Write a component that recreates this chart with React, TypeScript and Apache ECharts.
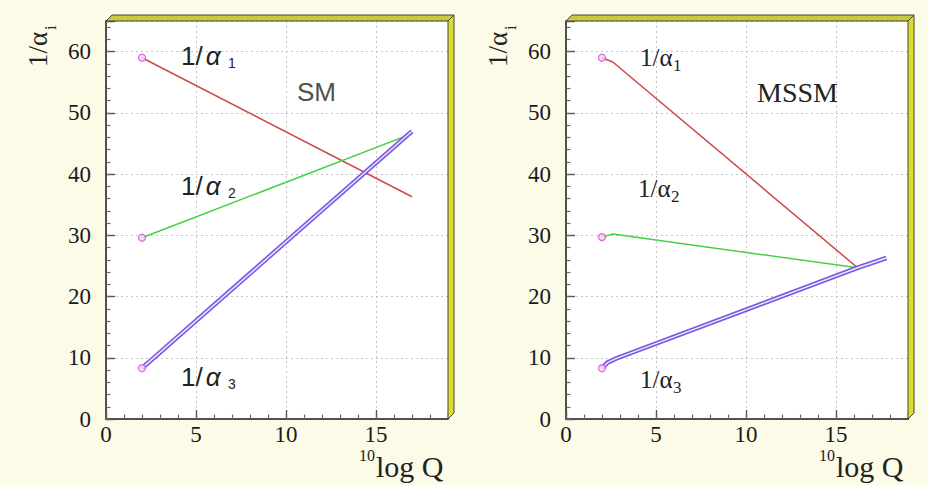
import React, { useEffect, useRef } from "react";
import * as echarts from "echarts";

// ---- data (log10 Q, 1/alpha_i) ----
const xTickLabels = [0, 5, 10, 15];
const yTickLabels = [0, 10, 20, 30, 40, 50, 60];

const smAlpha1 = [[2, 59.0], [17, 36.3]];
const smAlpha2 = [[2, 29.6], [17, 46.6]];
const smAlpha3 = [[2, 8.3], [17, 47.0]];

const mssmAlpha1 = [[2, 59.0], [2.6, 58.3], [16.2, 24.7]];
const mssmAlpha2 = [[2, 29.7], [2.6, 30.2], [16.2, 24.7]];
const mssmAlpha3 = [[2, 8.3], [2.3, 9.2], [2.8, 9.9], [16.2, 24.7], [17.8, 26.3]];

const panelTitles = ["SM", "MSSM"];

const SERIF = '"Liberation Serif", "Times New Roman", serif';
const SANS = '"Liberation Sans", Arial, sans-serif';

export default function App() {
  const ref = useRef<HTMLDivElement>(null);

  useEffect(() => {
    const chart = echarts.init(ref.current!, null, { renderer: "svg" });
    const lefts = [106, 566];
    const W = 342;
    const TOP = 21;
    const H = 398;

    const grids = lefts.map((l) => ({
      left: l,
      top: TOP,
      width: W,
      height: H,
      show: true,
      backgroundColor: "#ffffff",
      borderWidth: 0,
    }));

    const xAxes: any[] = [];
    const yAxes: any[] = [];
    lefts.forEach((_, g) => {
      xAxes.push({
        type: "value",
        gridIndex: g,
        position: "bottom",
        min: 0,
        max: 19,
        interval: 5,
        axisLine: { show: true, onZero: false, lineStyle: { color: "#505050", width: 2 } },
        axisTick: { show: true, inside: true, length: 9, lineStyle: { color: "#555", width: 1.4 } },
        axisLabel: {
          margin: 6,
          fontFamily: SERIF,
          fontSize: 23,
          lineHeight: 18,
          color: "#1a1a1a",
          formatter: (v: number) => (xTickLabels.includes(v) ? String(v) : ""),
        },
        splitLine: { show: true, lineStyle: { color: "#c4c4c4", type: [2, 3], width: 1 } },
      });
      xAxes.push({
        type: "value",
        gridIndex: g,
        position: "bottom",
        min: 0,
        max: 19,
        interval: 1,
        axisLine: { show: false },
        axisTick: { show: true, inside: true, length: 4.5, lineStyle: { color: "#666", width: 1.2 } },
        axisLabel: { show: false },
        splitLine: { show: false },
      });
      yAxes.push({
        type: "value",
        gridIndex: g,
        position: "left",
        min: 0,
        max: 65,
        interval: 10,
        axisLine: { show: true, onZero: false, lineStyle: { color: "#505050", width: 2 } },
        axisTick: { show: true, inside: true, length: 9, lineStyle: { color: "#555", width: 1.4 } },
        axisLabel: {
          margin: 15,
          fontFamily: SERIF,
          fontSize: 23,
          color: "#1a1a1a",
          formatter: (v: number) => (yTickLabels.includes(v) ? String(v) : ""),
        },
        splitLine: { show: true, lineStyle: { color: "#c4c4c4", type: [2, 3], width: 1 } },
      });
      yAxes.push({
        type: "value",
        gridIndex: g,
        position: "left",
        min: 0,
        max: 65,
        interval: 2,
        axisLine: { show: false },
        axisTick: { show: true, inside: true, length: 4.5, lineStyle: { color: "#666", width: 1.2 } },
        axisLabel: { show: false },
        splitLine: { show: false },
      });
    });

    const RED = "#d04848";
    const GREEN = "#44d044";
    const PURPLE = "#7a58e0";

    const lineSeries = (data: number[][], g: number, color: string, width: number, z = 3) => ({
      type: "line",
      xAxisIndex: 2 * g,
      yAxisIndex: 2 * g,
      data,
      symbol: "none",
      showSymbol: false,
      smooth: false,
      z,
      lineStyle: { color, width },
    });

    const panels = [
      [smAlpha1, smAlpha2, smAlpha3],
      [mssmAlpha1, mssmAlpha2, mssmAlpha3],
    ];

    const series: any[] = [];
    panels.forEach((p, g) => {
      series.push(lineSeries(p[0], g, RED, 1.5));
      series.push(lineSeries(p[1], g, GREEN, 1.5));
      series.push(lineSeries(p[2], g, PURPLE, 4.6, 4));
      series.push(lineSeries(p[2], g, "#ece6ff", 1.5, 5));
      series.push({
        type: "scatter",
        xAxisIndex: 2 * g,
        yAxisIndex: 2 * g,
        data: p.map((s) => s[0]),
        symbol: "circle",
        symbolSize: 7,
        z: 6,
        itemStyle: { color: "#f6d8f6", borderColor: "#d848d8", borderWidth: 1.3 },
      });
    });

    const frame = (l: number) => {
      const r = l + W;
      const b = TOP + H;
      return [
        {
          type: "polygon",
          z: 50,
          shape: { points: [[l, TOP], [l + 6, TOP - 6], [r + 6, TOP - 6], [r, TOP]] },
          style: { fill: "#c9c93e", stroke: "#454535", lineWidth: 1 },
        },
        {
          type: "polygon",
          z: 50,
          shape: { points: [[r, TOP], [r + 6, TOP - 6], [r + 6, b - 6], [r, b]] },
          style: { fill: "#dcdc30", stroke: "#454535", lineWidth: 1 },
        },
      ];
    };

    const txt = (x: number, y: number, text: string, size: number, family: string, fill = "#222") => ({
      type: "text",
      x,
      y,
      z: 60,
      style: { text, fontSize: size, fontFamily: family, fill, align: "left", verticalAlign: "middle" },
    });

    // sans label "1/α" with italic alpha (SM panel)
    const smLabel = (x: number, y: number) => ({
      type: "text",
      x,
      y,
      z: 60,
      style: {
        text: "{n|1/}{a|α}",
        align: "left",
        verticalAlign: "middle",
        rich: {
          n: { fontSize: 26, fontFamily: SANS, fill: "#222", color: "#222" },
          a: { fontSize: 26, fontFamily: SANS, fontStyle: "italic", fill: "#222", color: "#222", padding: [0, 0, 0, 3] },
        },
      },
    });

    const yTitle = (x: number) => ({
      type: "group",
      x,
      y: 67,
      rotation: Math.PI / 2,
      z: 60,
      children: [
        { type: "text", x: 0, y: 0, style: { text: "1/α", fontSize: 27, fontFamily: SERIF, fill: "#222", align: "left", verticalAlign: "middle" } },
        { type: "text", x: 37, y: 12, style: { text: "i", fontSize: 17, fontFamily: SERIF, fill: "#222", align: "left", verticalAlign: "middle" } },
      ],
    });

    const xTitle = (dx: number) => [
      txt(359 + dx, 455, "10", 16, SERIF),
      txt(376 + dx, 466, "log Q", 30, SERIF),
    ];

    const graphic: any[] = [
      ...frame(lefts[0]),
      ...frame(lefts[1]),
      yTitle(38),
      yTitle(498),
      ...xTitle(0),
      ...xTitle(460),
      // SM panel labels (sans)
      smLabel(181, 56),
      txt(228, 63, "1", 14, SANS),
      smLabel(181, 186),
      txt(228, 193, "2", 14, SANS),
      smLabel(181, 377),
      txt(228, 384, "3", 14, SANS),
      txt(297, 92, panelTitles[0], 26, SANS, "#505050"),
      // MSSM panel labels (serif)
      txt(640, 57, "1/α", 25, SERIF),
      txt(673, 65, "1", 17, SERIF),
      txt(638, 188, "1/α", 25, SERIF),
      txt(671, 196, "2", 17, SERIF),
      txt(640, 379, "1/α", 25, SERIF),
      txt(673, 387, "3", 17, SERIF),
      txt(757, 92, panelTitles[1], 28, SERIF),
    ];

    chart.setOption({
      animation: false,
      backgroundColor: "#fcfbe8",
      grid: grids,
      xAxis: xAxes,
      yAxis: yAxes,
      series,
      graphic,
    });

    return () => chart.dispose();
  }, []);

  return (
    <div
      ref={ref}
      style={{ position: "absolute", left: 0, top: 0, width: 928, height: 485 }}
    />
  );
}
